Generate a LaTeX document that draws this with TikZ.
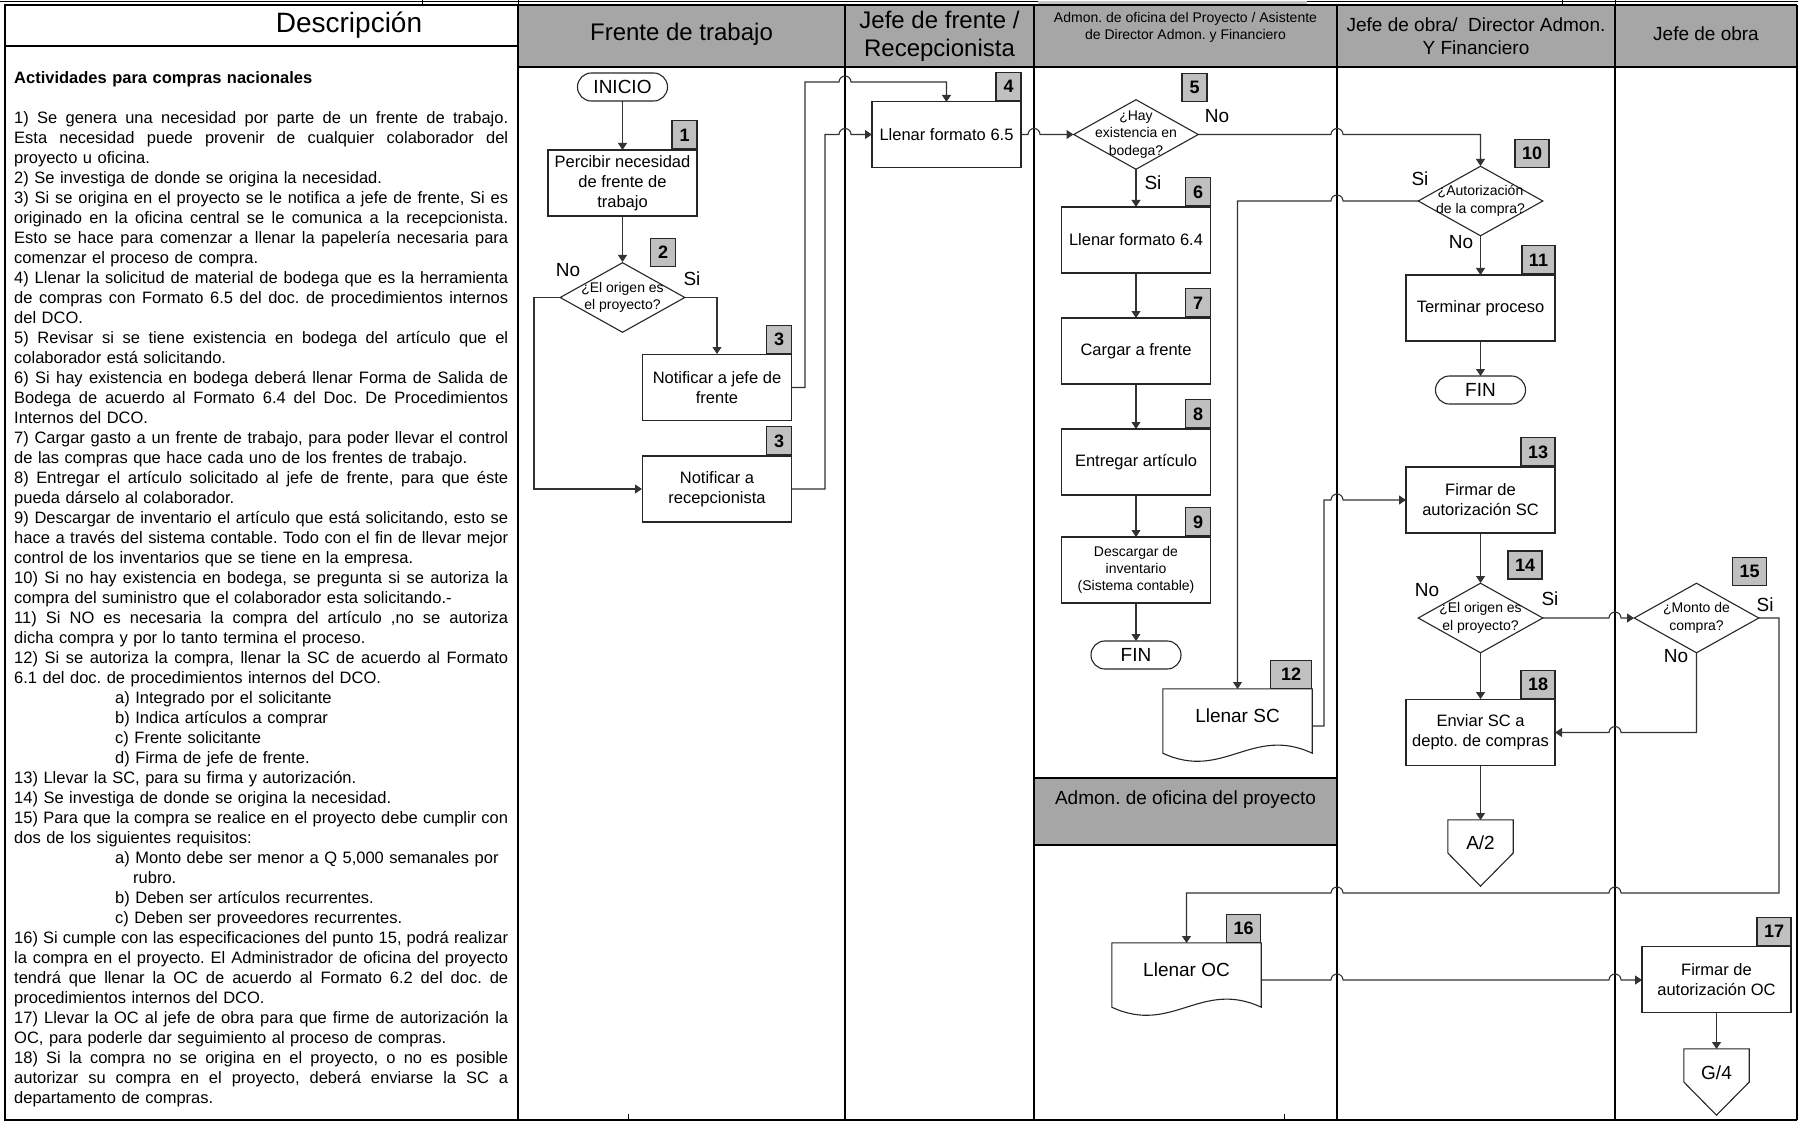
\documentclass[tikz,border=0pt]{standalone}
\usepackage{fontspec}
\setmainfont{Liberation Sans}
\usetikzlibrary{shapes.geometric,arrows.meta,calc}

\newcommand\fsz[2]{\fontsize{#1}{#2}\selectfont}
% a full-width justified line: every interword space stretches equally
\newcommand\jl[1]{\leavevmode\hbox to 494pt{\spaceskip=0.278em plus 1fil\xspaceskip=0.278em plus 1fil\relax #1}}
\definecolor{hdrgray}{RGB}{166,166,166}
\definecolor{tagfill}{RGB}{192,192,192}

\begin{document}
\frenchspacing
\begin{tikzpicture}[x=1pt,y=-1pt,
  frame/.style={line width=2.4pt},
  box/.style={draw=black!85, line width=1.1pt, fill=white, minimum width=149pt, minimum height=66pt, inner sep=1pt, align=center, font=\fsz{16.5}{20}},
  term/.style={draw=black!85, line width=1.1pt, fill=white, minimum width=90pt, minimum height=28pt, rounded corners=13.9pt, inner sep=0pt, font=\fsz{19}{23}},
  dec/.style={diamond, draw=black!85, line width=1.1pt, fill=white, minimum width=125pt, minimum height=70pt, inner sep=0pt},
  dectext/.style={font=\fsz{14}{17.5}, align=center},
  tag/.style={draw=black!85, line width=1.1pt, fill=tagfill, minimum width=25pt, minimum height=28pt, inner xsep=7pt, inner ysep=0pt, font=\bfseries\fsz{18}{20}},
  hdr/.style={font=\fsz{24}{28}, align=center},
  yn/.style={font=\fsz{19}{23}},
  conn/.style={draw=black!80, line width=1.1pt},
  arr/.style={conn, -{Triangle[length=7pt,width=9pt]}},
  ghost/.style={draw=none, inner sep=0pt},
  shapeline/.style={draw=black!85, line width=1.1pt, fill=white}
]
\useasboundingbox (0,0) rectangle (1798,1123);

% ---------- outer page rules ----------
\draw[line width=0.8pt] (0,1.5) -- (1798,1.5);
\draw[line width=0.8pt] (422,0) -- (422,5);
\draw[line width=0.8pt] (1562,0) -- (1562,5);
\draw[line width=0.8pt] (628,1114) -- (628,1120);
\draw[line width=0.8pt] (1284,1114) -- (1284,1120);
\fill[gray!45] (1038,1.5) rectangle (1307,5);

% ---------- description column ----------
\draw[line width=2pt] (5,5) rectangle (518,1120);
\draw[line width=2pt] (5,46) -- (518,46);
\node[font=\fsz{28}{32}] (desctitle) at (349,25) {Descripción};

\node[anchor=north west, inner sep=0pt, text width=494pt, align=left, font=\fsz{16.5}{20}\frenchspacing] (desctext) at (14,71.5) {%
\textbf{Actividades para compras nacionales}\\
\mbox{}\\
\jl{1) Se genera una necesidad por parte de un frente de trabajo.}\\
\jl{Esta necesidad puede provenir de cualquier colaborador del}\\
proyecto u oficina.\\
2) Se investiga de donde se origina la necesidad.\\
\jl{3) Si se origina en el proyecto se le notifica a jefe de frente, Si es}\\
\jl{originado en la oficina central se le comunica a la recepcionista.}\\
\jl{Esto se hace para comenzar a llenar la papelería necesaria para}\\
comenzar el proceso de compra.\\
\jl{4) Llenar la solicitud de material de bodega que es la herramienta}\\
\jl{de compras con Formato 6.5 del doc. de procedimientos internos}\\
del DCO.\\
\jl{5) Revisar si se tiene existencia en bodega del artículo que el}\\
colaborador está solicitando.\\
\jl{6) Si hay existencia en bodega deberá llenar Forma de Salida de}\\
\jl{Bodega de acuerdo al Formato 6.4 del Doc. De Procedimientos}\\
Internos del DCO.\\
\jl{7) Cargar gasto a un frente de trabajo, para poder llevar el control}\\
de las compras que hace cada uno de los frentes de trabajo.\\
\jl{8) Entregar el artículo solicitado al jefe de frente, para que éste}\\
pueda dárselo al colaborador.\\
\jl{9) Descargar de inventario el artículo que está solicitando, esto se}\\
\jl{hace a través del sistema contable. Todo con el fin de llevar mejor}\\
control de los inventarios que se tiene en la empresa.\\
\jl{10) Si no hay existencia en bodega, se pregunta si se autoriza la}\\
compra del suministro que el colaborador esta solicitando.-\\
\jl{11) Si NO es necesaria la compra del artículo ,no se autoriza}\\
dicha compra y por lo tanto termina el proceso.\\
\jl{12) Si se autoriza la compra, llenar la SC de acuerdo al Formato}\\
6.1 del doc. de procedimientos internos del DCO.\\
\hspace*{101pt}a) Integrado por el solicitante\\
\hspace*{101pt}b) Indica artículos a comprar\\
\hspace*{101pt}c) Frente solicitante\\
\hspace*{101pt}d) Firma de jefe de frente.\\
13) Llevar la SC, para su firma y autorización.\\
14) Se investiga de donde se origina la necesidad.\\
\jl{15) Para que la compra se realice en el proyecto debe cumplir con}\\
dos de los siguientes requisitos:\\
\hspace*{101pt}a) Monto debe ser menor a Q 5,000 semanales por\\
\hspace*{119pt}rubro.\\
\hspace*{101pt}b) Deben ser artículos recurrentes.\\
\hspace*{101pt}c) Deben ser proveedores recurrentes.\\
\jl{16) Si cumple con las especificaciones del punto 15, podrá realizar}\\
\jl{la compra en el proyecto. El Administrador de oficina del proyecto}\\
\jl{tendrá que llenar la OC de acuerdo al Formato 6.2 del doc. de}\\
procedimientos internos del DCO.\\
\jl{17) Llevar la OC al jefe de obra para que firme de autorización la}\\
OC, para poderle dar seguimiento al proceso de compras.\\
\jl{18) Si la compra no se origina en el proyecto, o no es posible}\\
\jl{autorizar su compra en el proyecto, deberá enviarse la SC a}\\
departamento de compras.};

% ---------- swimlanes ----------
\fill[hdrgray] (518,5) rectangle (1797,67);
\fill[hdrgray] (1034,778) rectangle (1337,845);
\draw[frame] (518,5) -- (1797,5);
\draw[frame] (518,67) -- (1797,67);
\draw[frame] (518,1120) -- (1797,1120);
\foreach \lx in {518,845,1034,1337,1615,1797}
  \draw[frame] (\lx,5) -- (\lx,1120);
\draw[line width=0.8pt] (518,0) -- (518,5);
\draw[line width=0.8pt] (1615,0) -- (1615,5);
\draw[frame] (1034,778) -- (1337,778);
\draw[frame] (1034,845) -- (1337,845);

\node[hdr] (hfrente) at (681.5,34) {Frente de trabajo};
\node[hdr] (hjefe) at (939.5,36) {Jefe de frente /\\Recepcionista};
\node[font=\fsz{14}{17}, align=center] (hadmon) at (1185.5,27.5) {Admon. de oficina del Proyecto / Asistente\\de Director Admon. y Financiero};
\node[font=\fsz{19}{23}, align=center] (hdirector) at (1476,36.5) {Jefe de obra/\ \ Director Admon.\\Y Financiero};
\node[font=\fsz{19}{23}] (hobra) at (1706,34) {Jefe de obra};
\node[font=\fsz{19}{23}] (hoficina) at (1185.5,800) {Admon. de oficina del proyecto};

% ---------- connectors ----------
\draw[arr] (622.5,101) -- (622.5,150);
\draw[arr] (622.5,216) -- (622.5,262);
\draw[arr] (685,297.5) -| (717,354);
\draw[arr] (560,297.5) -- (534,297.5) |- (642,489);
\draw[arr] (792,387.5) -| (805,82) -- (839,82) arc[start angle=180,end angle=360,radius=6] -| (946.5,102);
\draw[arr] (792,489) -| (825,134.5) -- (839,134.5) arc[start angle=180,end angle=360,radius=6] -- (872,134.5);
\draw[arr] (1021,134.5) -- (1028,134.5) arc[start angle=180,end angle=360,radius=6] -- (1073.5,134.5);
\draw[arr] (1198.5,134.5) -- (1331,134.5) arc[start angle=180,end angle=360,radius=6] -| (1480.5,166);
\draw[arr] (1136,169.5) -- (1136,207);
\draw[arr] (1136,273) -- (1136,318);
\draw[arr] (1136,384) -- (1136,429);
\draw[arr] (1136,495) -- (1136,537);
\draw[arr] (1136,603) -- (1136,641);
\draw[arr] (1418,201) -- (1343,201) arc[start angle=0,end angle=-180,radius=6] -| (1237.5,689);
\draw[arr] (1480.5,236) -- (1480.5,275);
\draw[arr] (1480.5,341) -- (1480.5,376);
\draw[arr] (1312,726) -| (1324,500) -- (1331,500) arc[start angle=180,end angle=360,radius=6] -- (1406,500);
\draw[arr] (1480.5,533) -- (1480.5,583);
\draw[arr] (1543,618) -- (1609,618) arc[start angle=180,end angle=360,radius=6] -- (1634,618);
\draw[arr] (1696.5,653) |- (1621,732.5) arc[start angle=0,end angle=-180,radius=6] -- (1555,732.5);
\draw[arr] (1759,618) -- (1779,618) |- (1621,893) arc[start angle=0,end angle=-180,radius=6] -- (1343,893) arc[start angle=0,end angle=-180,radius=6] -| (1186.5,943);
\draw[arr] (1480.5,653) -- (1480.5,699);
\draw[arr] (1480.5,766) -- (1480.5,820);
\draw[arr] (1261,980) -- (1331,980) arc[start angle=180,end angle=360,radius=6] -- (1609,980) arc[start angle=180,end angle=360,radius=6] -- (1642,980);
\draw[arr] (1716.5,1013) -- (1716.5,1049);

% ---------- shapes ----------
\node[term] (inicio) at (622.5,87) {INICIO};
\node[box] (b1) at (622.5,183) {Percibir necesidad\\de frente de\\trabajo};
\node[dec, label={[dectext]center:{¿El origen es\\el proyecto?}}] (d2) at (622.5,297.5) {};
\node[box] (b3a) at (717,387.5) {Notificar a jefe de\\frente};
\node[box] (b3b) at (717,489) {Notificar a\\recepcionista};
\node[box] (b4) at (946.5,134.5) {Llenar formato 6.5};
\node[dec, label={[dectext]center:{¿Hay\\existencia en\\bodega?}}] (d5) at (1136,134.5) {};
\node[box] (b6) at (1136,240) {Llenar formato 6.4};
\node[box] (b7) at (1136,351) {Cargar a frente};
\node[box] (b8) at (1136,462) {Entregar artículo};
\node[box, font=\fsz{14}{17}] (b9) at (1136,570) {Descargar de\\inventario\\(Sistema contable)};
\node[term] (fin1) at (1136,655) {FIN};
\node[dec, label={[dectext]center:{¿Autorización\\de la compra?}}] (d10) at (1480.5,201) {};
\node[box] (b11) at (1480.5,308) {Terminar proceso};
\node[term] (fin2) at (1480.5,390) {FIN};
\node[box] (b13) at (1480.5,500) {Firmar de\\autorización SC};
\node[dec, label={[dectext]center:{¿El origen es\\el proyecto?}}] (d14) at (1480.5,618) {};
\node[dec, label={[dectext]center:{¿Monto de\\compra?}}] (d15) at (1696.5,618) {};
\node[box] (b18) at (1480.5,732.5) {Enviar SC a\\depto. de compras};
\node[box] (b17) at (1716.5,979.5) {Firmar de\\autorización OC};

% document shapes
\node[ghost, minimum width=149pt, minimum height=64pt] (b12) at (1237.5,721) {};
\draw[shapeline] (b12.south west) -- (b12.north west) -- (b12.north east) -- (b12.south east)
  .. controls ($(b12.south east)+(-60,-28)$) and ($(b12.south west)+(60,28)$) .. (b12.south west) -- cycle;
\node[font=\fsz{19}{23}] (b12text) at (1237.5,716) {Llenar SC};
\node[ghost, minimum width=149pt, minimum height=64pt] (b16) at (1186.5,975) {};
\draw[shapeline] (b16.south west) -- (b16.north west) -- (b16.north east) -- (b16.south east)
  .. controls ($(b16.south east)+(-60,-28)$) and ($(b16.south west)+(60,28)$) .. (b16.south west) -- cycle;
\node[font=\fsz{19}{23}] (b16text) at (1186.5,970) {Llenar OC};

% off-page connectors
\node[ghost, minimum width=65pt, minimum height=66pt] (offA) at (1480.5,853) {};
\draw[shapeline] (offA.north west) -- (offA.north east) -- (offA.east) -- (offA.south) -- (offA.west) -- cycle;
\node[font=\fsz{19}{23}] (offAtext) at (1480.5,843) {A/2};
\node[ghost, minimum width=65pt, minimum height=66pt] (offG) at (1716.5,1082) {};
\draw[shapeline] (offG.north west) -- (offG.north east) -- (offG.east) -- (offG.south) -- (offG.west) -- cycle;
\node[font=\fsz{19}{23}] (offGtext) at (1716.5,1073) {G/4};

% ---------- step tags ----------
\node[tag, anchor=south east] (t1) at (b1.north east) {1};
\node[tag] (t2) at (663,252.5) {2};
\node[tag, anchor=south east] (t3a) at (b3a.north east) {3};
\node[tag, anchor=south east] (t3b) at (b3b.north east) {3};
\node[tag, anchor=south east] (t4) at (b4.north east) {4};
\node[tag] (t5) at (1194.5,87.5) {5};
\node[tag, anchor=south east] (t6) at (b6.north east) {6};
\node[tag, anchor=south east] (t7) at (b7.north east) {7};
\node[tag, anchor=south east] (t8) at (b8.north east) {8};
\node[tag, anchor=south east] (t9) at (b9.north east) {9};
\node[tag] (t10) at (1532,153.5) {10};
\node[tag, anchor=south east] (t11) at (b11.north east) {11};
\node[tag, anchor=south east, minimum width=41pt] (t12) at (b12.north east) {12};
\node[tag, anchor=south east] (t13) at (b13.north east) {13};
\node[tag] (t14) at (1525,565) {14};
\node[tag] (t15) at (1749.5,571.5) {15};
\node[tag, anchor=south east] (t16) at (b16.north east) {16};
\node[tag, anchor=south east] (t17) at (b17.north east) {17};
\node[tag, anchor=south east] (t18) at (b18.north east) {18};

% ---------- branch labels ----------
\node[yn] (no2) at (568,270) {No};
\node[yn] (si2) at (692,279) {Si};
\node[yn] (no5) at (1217,116) {No};
\node[yn] (si5) at (1153,183) {Si};
\node[yn] (si10) at (1420,179) {Si};
\node[yn] (no10) at (1461,242) {No};
\node[yn] (no14) at (1427,590) {No};
\node[yn] (si14) at (1550,599) {Si};
\node[yn] (si15) at (1765,605) {Si};
\node[yn] (no15) at (1676,656) {No};
\end{tikzpicture}
\end{document}
